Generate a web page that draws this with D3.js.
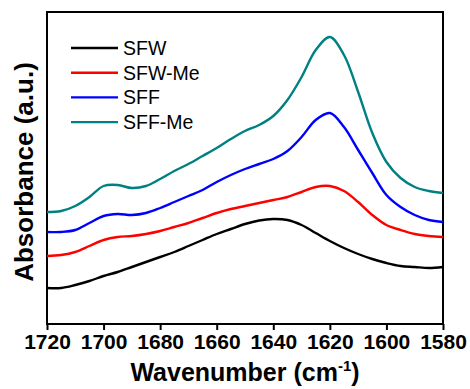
<!DOCTYPE html>
<html>
<head>
<meta charset="utf-8">
<script src="https://cdn.jsdelivr.net/npm/d3@7"></script>
<style>
  body { margin: 0; background: #fff; }
  text { font-family: Arial, "Liberation Sans", sans-serif; }
</style>
</head>
<body>
<svg id="vis"></svg>
<script>
//CONSTANTES-----------------------------------------------------------------
const WIDTH = 470;
const HEIGHT = 389;
const MARGIN = { top: 12, bottom: 65, right: 27, left: 47 };
const HEIGHTVIS = HEIGHT - MARGIN.top - MARGIN.bottom;
const WIDTHVIS = WIDTH - MARGIN.right - MARGIN.left;

//DATOS (absorbancia en unidades arbitrarias)--------------------------------
const wavenumber = [1720, 1715, 1710, 1705, 1700, 1695, 1690, 1685, 1680, 1675,
  1670, 1665, 1660, 1655, 1650, 1645, 1640, 1635, 1630, 1625,
  1620, 1615, 1610, 1605, 1600, 1595, 1590, 1585, 1580];
const sfw = [0.36, 0.36, 0.39, 0.43, 0.48, 0.52, 0.57, 0.62, 0.67, 0.72,
  0.78, 0.84, 0.90, 0.95, 1.00, 1.035, 1.05, 1.04, 0.99, 0.91,
  0.83, 0.76, 0.70, 0.65, 0.61, 0.58, 0.57, 0.56, 0.57];
const sfwMe = [0.68, 0.69, 0.72, 0.78, 0.84, 0.87, 0.88, 0.90, 0.93, 0.97,
  1.01, 1.06, 1.11, 1.15, 1.18, 1.21, 1.24, 1.27, 1.32, 1.37,
  1.38, 1.33, 1.22, 1.09, 0.99, 0.94, 0.90, 0.88, 0.87];
const sff = [0.92, 0.92, 0.94, 1.01, 1.08, 1.10, 1.09, 1.11, 1.16, 1.22,
  1.28, 1.34, 1.42, 1.49, 1.55, 1.60, 1.65, 1.73, 1.87, 2.04,
  2.11, 1.97, 1.74, 1.51, 1.29, 1.17, 1.09, 1.04, 1.02];
const sffMe = [1.12, 1.13, 1.18, 1.27, 1.38, 1.39, 1.36, 1.38, 1.45, 1.53,
  1.60, 1.68, 1.76, 1.85, 1.93, 1.99, 2.08, 2.24, 2.47, 2.74,
  2.87, 2.69, 2.32, 1.91, 1.62, 1.46, 1.37, 1.33, 1.31];
const seriesNames = ["SFW", "SFW-Me", "SFF", "SFF-Me"];
const seriesColors = ["#000000", "#ff0000", "#0000ff", "#008080"];
const xTicks = [1720, 1700, 1680, 1660, 1640, 1620, 1600, 1580];

const series = [sfw, sfwMe, sff, sffMe].map((vals, i) => ({
  name: seriesNames[i],
  color: seriesColors[i],
  values: vals.map((v, j) => ({ x: wavenumber[j], y: v })),
}));

const svg = d3.select("#vis").attr("width", WIDTH).attr("height", HEIGHT);
const contenedor = svg
  .append("g")
  .attr("transform", `translate(${MARGIN.left} ${MARGIN.top})`);

//ESCALAS--------------------------------------------------------------------
const escalaX = d3.scaleLinear().domain([1720, 1580]).range([0, WIDTHVIS]);
const escalaY = d3.scaleLinear().domain([0, 3.12]).range([HEIGHTVIS, 0]);

//EJE X----------------------------------------------------------------------
const ejeX = d3.axisBottom(escalaX).tickValues(xTicks).tickSize(6).tickPadding(4)
  .tickFormat(d3.format("d"));
const gx = contenedor
  .append("g")
  .attr("transform", `translate(0, ${HEIGHTVIS})`)
  .call(ejeX);
gx.select(".domain").remove();
gx.selectAll("line").attr("stroke", "#000").attr("stroke-width", 2);
gx.selectAll("text")
  .attr("fill", "#000")
  .style("font-size", "21px")
  .style("font-weight", "bold")
  .style("font-family", "Arial, 'Liberation Sans', sans-serif");

//MARCO----------------------------------------------------------------------
contenedor
  .append("rect")
  .attr("x", 0)
  .attr("y", 0)
  .attr("width", WIDTHVIS)
  .attr("height", HEIGHTVIS)
  .attr("fill", "none")
  .attr("stroke", "#000")
  .attr("stroke-width", 2);

//CURVAS---------------------------------------------------------------------
const linea = d3
  .line()
  .x((d) => escalaX(d.x))
  .y((d) => escalaY(d.y))
  .curve(d3.curveCatmullRom.alpha(0.5));

contenedor
  .selectAll("path.serie")
  .data(series)
  .join("path")
  .attr("class", "serie")
  .attr("d", (d) => linea(d.values))
  .attr("fill", "none")
  .attr("stroke", (d) => d.color)
  .attr("stroke-width", 2.4);

//LEYENDA--------------------------------------------------------------------
const leyenda = svg
  .selectAll("g.leyenda")
  .data(series)
  .join("g")
  .attr("class", "leyenda")
  .attr("transform", (d, i) => `translate(71, ${48 + i * 24.7})`);
leyenda
  .append("line")
  .attr("x1", 0)
  .attr("x2", 47)
  .attr("stroke", (d) => d.color)
  .attr("stroke-width", 2.4);
leyenda
  .append("text")
  .attr("x", 52)
  .attr("y", 7)
  .style("font-size", "19.5px")
  .text((d) => d.name);

//TITULOS DE EJES------------------------------------------------------------
const tituloX = svg
  .append("text")
  .attr("x", 245)
  .attr("y", 381)
  .attr("text-anchor", "middle")
  .style("font-size", "25px")
  .style("font-weight", "bold");
tituloX.append("tspan").text("Wavenumber (cm");
tituloX.append("tspan").attr("dy", -10).style("font-size", "15px").text("-1");
tituloX.append("tspan").attr("dy", 10).text(")");

svg
  .append("text")
  .attr("transform", "translate(33, 172) rotate(-90)")
  .attr("text-anchor", "middle")
  .style("font-size", "26px")
  .style("font-weight", "bold")
  .text("Absorbance (a.u.)");
</script>
</body>
</html>
